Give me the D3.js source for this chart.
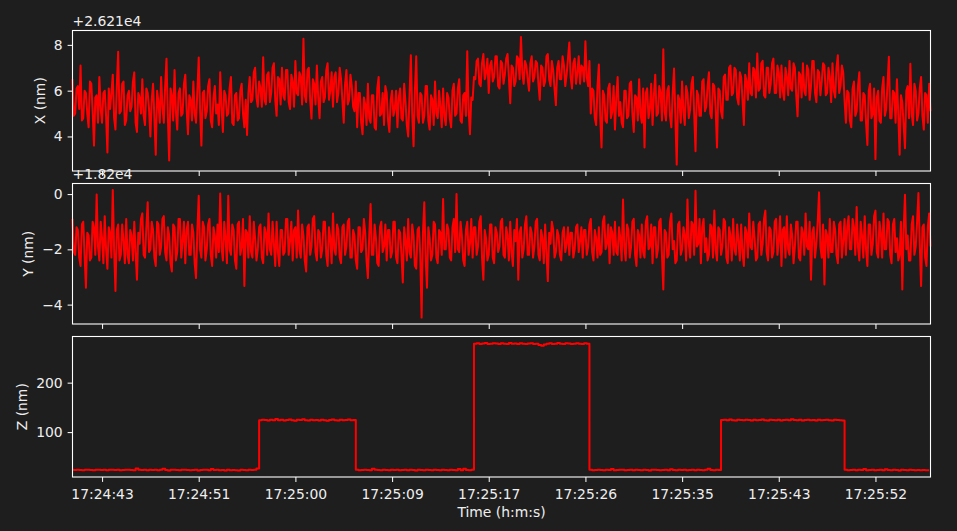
<!DOCTYPE html>
<html lang="en">
<head>
<meta charset="UTF-8">
<title>XYZ position trace</title>
<script src="https://cdn.jsdelivr.net/npm/d3@7"></script>
<style>
    html, body { margin: 0; padding: 0; background: #1e1e1e; }
    svg { display: block; }
    text { font-family: "DejaVu Sans", sans-serif; }
</style>
</head>
<body>
<svg id="chart" width="957" height="531"></svg>
<script>
    // sampling of the trace
    const startTime = "17:24:40.560";
    const xySampleMs = 120;
    const zSampleMs = 240;

    // X and Y are shown relative to an offset (matplotlib style offset text)
    const xOffsetLabel = "+2.621e4";
    const yOffsetLabel = "+1.82e4";

    // X - 26210 (nm)
    const xValues = [
        6.5,4.9, 5.0,6.1, 6.2,5.2, 7.1,4.7, 4.8,6.0, 5.9,5.0, 4.4,6.4, 6.3,5.1, 3.6,5.7, 5.8,4.6,
        6.6,5.2, 4.6,5.9, 6.0,4.9, 3.3,6.1, 5.2,5.9, 6.7,4.8, 4.3,6.2, 7.7,5.0, 5.1,6.3, 6.4,4.5,
        4.7,5.8, 6.0,5.1, 5.3,6.4, 6.8,4.6, 4.2,5.9, 5.7,5.0, 6.5,4.9, 4.5,6.1, 5.9,5.2, 4.0,5.6,
        6.3,4.8, 3.2,6.0, 5.5,4.6, 6.6,5.3, 4.6,6.2, 7.4,4.9, 2.95,6.1, 5.8,4.7, 6.9,5.1, 4.3,5.9,
        6.1,4.9, 5.0,6.3, 6.7,5.2, 4.1,5.8, 5.6,4.7, 6.4,5.0, 4.6,6.0, 7.45,5.2, 3.6,5.9, 6.0,4.8,
        5.1,6.2, 6.5,4.7, 4.4,5.7, 6.2,5.0, 5.4,4.5, 6.8,5.3, 4.2,6.0, 5.8,4.9, 5.0,6.1, 6.6,4.6,
        4.5,5.8, 5.9,4.7, 4.8,6.0, 6.3,5.0, 4.4,5.6, 4.06,5.9, 6.6,5.5, 5.6,6.8, 7.0,5.7, 5.3,6.4,
        6.1,5.3, 7.46,5.6, 5.4,6.7, 6.8,5.5, 5.9,7.0, 7.2,5.6, 4.9,6.6, 6.5,5.4, 7.0,5.8, 5.6,6.9,
        6.9,5.5, 5.2,6.7, 6.4,5.3, 7.3,5.9, 5.8,6.8, 6.6,5.4, 8.27,5.8, 5.5,6.9, 7.0,5.6, 4.78,6.5,
        6.3,5.4, 7.1,5.7, 4.8,6.4, 6.6,5.5, 5.7,6.9, 7.2,5.6, 6.0,6.8, 5.3,6.6, 6.8,5.5, 5.9,7.0,
        6.5,5.6, 4.6,6.3, 6.9,5.4, 5.6,6.7, 6.2,5.3, 5.1,6.4, 4.4,5.9, 5.9,4.6, 4.1,5.7, 5.4,4.5,
        6.3,4.8, 4.6,5.8, 5.8,4.4, 4.3,6.1, 6.6,4.9, 5.0,5.9, 4.5,6.2, 5.9,4.7, 4.2,5.6, 6.0,4.9,
        5.2,6.0, 4.4,5.7, 6.1,4.8, 4.7,6.3, 5.5,4.5, 4.0,5.8, 7.55,5.0, 3.57,6.0, 7.5,4.9, 4.6,5.9,
        5.8,4.6, 4.9,6.2, 6.2,4.7, 4.3,5.8, 5.6,4.5, 6.4,5.0, 4.8,6.0, 5.3,4.4, 6.1,4.9, 4.5,5.9,
        5.7,4.8, 4.4,6.0, 6.3,4.9, 5.0,6.1, 6.5,4.7, 4.6,5.8, 5.9,4.9, 7.72,5.2, 4.1,5.7, 5.6,6.6,
        6.5,7.3, 7.4,6.3, 6.2,7.2, 7.6,6.5, 6.8,7.4, 5.9,7.1, 7.3,6.4, 6.6,7.5, 7.5,6.2, 6.1,7.3,
        7.2,6.3, 6.7,7.4, 7.6,6.6, 5.45,7.1, 7.0,6.2, 6.4,7.5, 7.4,6.5, 8.35,6.8, 6.3,7.3, 7.1,6.5,
        6.0,7.2, 7.5,6.4, 6.6,7.3, 7.2,6.3, 5.6,7.1, 7.0,6.2, 6.4,7.5, 7.6,6.5, 6.2,7.3, 6.9,6.1,
        5.37,7.0, 7.3,6.5, 6.5,7.5, 7.1,6.2, 6.7,7.4, 8.1,6.6, 6.1,7.2, 7.4,6.3, 6.8,7.5, 6.3,7.1,
        7.0,6.4, 8.16,6.6, 6.2,7.3, 5.0,6.1, 6.0,4.8, 4.5,6.2, 7.14,4.9, 3.52,6.0, 5.8,4.7, 4.6,6.1,
        6.3,4.8, 5.1,6.2, 4.3,5.7, 6.6,4.9, 5.5,4.6, 4.4,6.0, 6.0,4.8, 4.9,6.3, 6.4,5.0, 4.2,5.8,
        5.7,4.7, 6.5,5.0, 4.6,6.1, 3.52,5.9, 6.1,4.8, 5.2,6.3, 4.5,5.8, 6.7,4.9, 5.0,6.2, 5.9,4.7,
        7.81,5.1, 4.7,6.0, 6.2,4.9, 4.4,5.9, 6.97,4.8, 2.77,5.8, 5.6,4.6, 6.4,5.1, 4.5,6.2, 5.9,4.8,
        5.2,6.3, 6.6,5.0, 3.35,6.0, 5.8,4.9, 4.9,6.4, 6.5,5.1, 5.3,6.2, 6.8,5.0, 4.8,6.3, 6.2,5.2,
        3.52,6.1, 6.0,5.1, 4.8,6.6, 6.7,5.6, 5.6,7.0, 7.1,5.8, 5.9,7.0, 6.9,5.7, 5.4,6.8, 6.6,5.6,
        4.5,6.7, 6.4,5.6, 7.2,5.9, 5.8,7.0, 6.9,5.7, 7.62,6.0, 6.1,7.2, 7.3,5.8, 5.7,7.0, 7.0,5.9,
        6.3,7.2, 7.4,5.9, 5.9,7.1, 6.8,5.7, 7.1,6.0, 5.6,7.0, 6.6,5.8, 7.3,6.1, 6.0,7.2, 7.0,5.8,
        4.88,6.8, 6.7,5.7, 7.2,6.0, 5.8,7.1, 6.9,5.6, 6.2,7.3, 7.3,5.9, 5.5,6.9, 6.8,5.8, 6.4,7.2,
        7.1,5.8, 5.9,7.0, 6.6,5.5, 7.2,6.0, 5.7,7.0, 7.55,5.9, 6.2,7.1, 6.8,5.6, 4.6,6.0, 5.9,4.7,
        4.4,6.1, 6.4,4.9, 5.1,6.2, 6.8,4.7, 4.7,5.9, 5.8,4.6, 3.63,6.0, 6.3,4.8, 5.0,6.1, 3.01,5.7,
        6.0,4.7, 4.6,6.1, 6.6,4.9, 5.2,6.3, 7.48,4.8, 4.8,6.0, 5.9,4.6, 6.5,5.0, 3.2,5.8, 5.5,4.5,
        3.49,6.0, 6.2,4.8, 7.18,5.0, 4.5,6.3, 6.0,4.7, 5.0,6.1, 6.6,4.9, 4.3,5.9, 5.8,4.6, 6.3,5.1
    ];

    // Y - 18200 (nm)
    const yValues = [
        -0.9,-2.1, -2.2,-1.2, -1.3,-2.3, -2.6,-1.1, -1.0,-2.2, -3.39,-1.4, -1.5,-2.4, -2.3,-1.0, -1.2,-2.2, -0.02,-1.9,
        -2.4,-1.0, -1.6,-2.5, -0.8,-2.0, -2.7,-1.2, -1.4,-2.3, 0.15,-2.0, -3.51,-1.3, -1.1,-2.4, -2.2,-1.1, -1.7,-2.5,
        -0.9,-2.2, -2.5,-1.3, -1.5,-2.4, -1.0,-2.1, -3.1,-1.4, -1.8,-0.9, -0.7,-2.2, -2.3,-1.2, -0.3,-2.1, -2.0,-1.0,
        -1.3,-2.3, -2.6,-1.0, -1.1,-2.2, -1.9,-0.9, -0.8,-2.1, -2.4,-1.2, -1.5,-2.5, -2.8,-1.1, -1.2,-2.4, -2.1,-0.9,
        -0.9,-2.3, -1.7,-1.0, -2.5,-1.3, -1.0,-2.2, -2.2,-1.1, -1.4,-2.5, -3.04,-1.3, -0.06,-2.0, -2.3,-1.0, -1.2,-2.4,
        -2.0,-1.1, -0.9,-2.2, -2.6,-1.2, -1.5,-2.3, -1.1,-2.1, 0.02,-1.9, -2.4,-1.0, -1.6,-2.5, -0.06,-2.0, -2.2,-1.1,
        -1.3,-2.4, -2.7,-1.1, -1.0,-2.2, -1.9,-0.9, -3.33,-1.3, -1.4,-2.3, -0.8,-2.1, -2.3,-1.0, -1.6,-2.4, -2.0,-1.2,
        -1.1,-2.3, -2.5,-1.2, -1.4,-2.2, -0.7,-2.0, -2.2,-1.0, -1.8,-2.6, -1.0,-2.1, -2.6,-1.3, -1.3,-2.2, -2.1,-0.9,
        -0.9,-2.2, -1.7,-1.0, -2.4,-1.3, -1.2,-2.3, -0.6,-2.0, -2.3,-1.1, -1.5,-2.4, -2.8,-1.2, -1.1,-2.2, -1.9,-0.9,
        -0.8,-2.1, -2.4,-1.3, -1.4,-2.3, -2.0,-1.0, -1.0,-2.2, -2.6,-1.2, -1.6,-2.5, -0.7,-2.0, -2.2,-1.1, -1.3,-2.3,
        -2.5,-1.2, -1.1,-2.2, -1.9,-1.0, -0.9,-2.3, -2.3,-1.3, -1.5,-2.4, -2.7,-1.2, -1.2,-2.1, -2.0,-0.9, -1.4,-2.4,
        -3.04,-1.5, -0.36,-2.2, -2.2,-1.1, -1.6,-2.5, -2.6,-1.2, -1.0,-2.1, -1.9,-1.1, -2.4,-1.3, -1.3,-2.3, -2.1,-1.0,
        -1.0,-2.3, -2.5,-1.3, -1.4,-2.2, -3.2,-1.2, -1.7,-2.4, -0.9,-2.1, -2.3,-1.1, -1.5,-2.6, -2.7,-1.3, -1.2,-2.2,
        -4.47,-1.4, -0.3,-2.3, -3.39,-1.2, -1.6,-2.4, -2.2,-1.0, -1.1,-2.3, -2.5,-1.3, -1.4,-2.2, -0.18,-2.0, -2.0,-1.1,
        -1.3,-2.3, -2.4,-1.2, -0.9,-2.1, 0.0,-2.0, -2.1,-1.0, -1.5,-2.4, -2.6,-1.3, -1.0,-2.2, -1.8,-0.9, -2.3,-1.2,
        -1.2,-2.2, -1.9,-1.0, -0.8,-2.3, -3.1,-1.3, -1.6,-2.4, -2.2,-1.1, -1.1,-2.3, -2.5,-1.2, -1.4,-2.1, -1.9,-1.0,
        -0.9,-2.2, -2.3,-1.2, -1.5,-2.4, -1.0,-2.1, -2.6,-1.3, -1.7,-0.9, -3.1,-1.4, -1.2,-2.3, -2.0,-1.1, -0.8,-2.2,
        -2.2,-1.2, -1.4,-2.3, -1.9,-1.0, -0.9,-2.2, -2.4,-1.3, -1.6,-2.5, -1.1,-2.1, -3.15,-1.4, -1.8,-1.0, -1.3,-2.3,
        -2.1,-1.3, -1.5,-2.2, -2.4,-1.4, -1.2,-2.1, -1.8,-1.2, -2.2,-1.4, -1.4,-2.3, -2.0,-1.2, -1.1,-2.1, -1.7,-1.2,
        -2.3,-1.3, -1.3,-2.2, -1.9,-1.1, -0.9,-2.1, -2.4,-1.3, -1.6,-2.3, -1.2,-2.2, -2.1,-1.0, -0.8,-2.0, -1.8,-1.1,
        -2.5,-1.2, -1.4,-2.2, -1.0,-2.1, -2.2,-1.2, -1.6,-2.4, -0.2,-1.9, -2.4,-1.1, -1.3,-2.3, -1.9,-1.0, -0.9,-2.2,
        -2.6,-1.3, -1.5,-2.3, -1.1,-2.1, -2.3,-1.0, -0.8,-2.0, -1.9,-1.1, -2.5,-1.2, -1.2,-2.3, -2.0,-1.0, -0.9,-2.2,
        -3.45,-1.3, -1.4,-2.3, -2.2,-1.0, -0.7,-2.0, -1.7,-2.5, -2.4,-1.1, -1.0,-2.2, -2.0,-1.2, -1.5,-2.4, -0.2,-1.8,
        -2.3,-1.0, -1.1,-2.2, 0.12,-1.9, -1.8,-0.9, -2.5,-1.2, -0.9,-2.1, -1.6,-2.4, -2.2,-1.1, -1.2,-2.3, -0.6,-2.0,
        -2.4,-1.2, -1.3,-2.2, -1.9,-0.9, -1.0,-2.3, -2.5,-1.2, -1.5,-2.4, -0.9,-2.0, -2.2,-1.1, -1.7,-2.4, -1.1,-2.1,
        -2.6,-1.2, -1.4,-2.3, -0.7,-1.9, -2.0,-1.0, -1.6,-2.4, -2.3,-1.1, -1.0,-2.2, -1.8,-0.9, -0.6,-2.1, -2.4,-1.2,
        -1.3,-2.3, -2.1,-1.0, -0.9,-2.2, -1.7,-0.8, -2.6,-1.3, -1.2,-2.3, -0.8,-2.0, -2.2,-1.1, -1.5,-2.5, -1.9,-1.0,
        -1.0,-2.3, -2.4,-1.2, -1.4,-2.2, -0.7,-1.9, -2.0,-1.0, -3.1,-1.4, -1.2,-2.3, -1.8,-1.0, 0.06,-1.9, -2.3,-1.1,
        -3.27,-1.3, -1.5,-2.3, -0.9,-2.1, -2.1,-1.0, -1.3,-2.2, -2.5,-1.1, -1.0,-2.3, -1.7,-0.9, -2.2,-1.2, -0.8,-2.0,
        -2.0,-0.9, -1.2,-2.2, -0.47,-1.9, -2.4,-1.0, -1.5,-2.3, -0.8,-2.0, -2.6,-1.1, -1.1,-2.2, -1.8,-0.8, -0.6,-2.1,
        -2.3,-1.0, -1.4,-2.3, -0.7,-2.0, -2.0,-0.9, -1.0,-2.2, -2.5,-1.1, -0.9,-2.1, -1.6,-2.4, -2.2,-1.0, -3.45,-1.3,
        -0.03,-2.0, -1.5,-2.4, -2.4,-1.1, -0.8,-2.2, -1.9,-1.0, 0.04,-1.8, -3.33,-1.2, -1.1,-2.3, -2.6,-1.2, -0.7,-1.9
    ];

    // Z (nm)
    const zValues = [
        23.5, 23, 24, 23, 22.5, 23.5, 24, 23, 22.5, 23.5,
        24, 23, 23.5, 22.5, 23.5, 24, 23, 23.5, 22.5, 23,
        23.5, 24, 23, 22.5, 26.5, 23.5, 23, 24, 22.5, 23.5,
        23, 24, 22.5, 23.5, 26, 23, 22, 23.5, 24, 23,
        22.5, 23.5, 24, 23, 22.5, 23, 23.5, 22, 23, 23.5,
        24, 22.5, 25.5, 23, 23.5, 22.5, 23, 22, 23.5, 22.5,
        23, 22.5, 22, 23.5, 23, 22.5, 23.5, 23, 24, 26.5,
        124, 125, 124.5, 123.5, 125, 124, 126.5, 124, 125, 123.5,
        124.5, 125.5, 124, 123, 125, 124.5, 126, 124, 123.5, 125,
        124, 124.5, 123.5, 125, 124, 123, 124.5, 125.5, 124, 123.5,
        125, 124, 124.5, 125.5, 124, 124.5, 23.5, 22.5, 23, 24,
        23, 22.5, 26, 23.5, 23, 22.5, 23.5, 23, 22.5, 24,
        23, 23.5, 22.5, 23, 24, 22.5, 23.5, 23, 22, 23.5,
        23, 22.5, 24, 23, 22.5, 23.5, 23, 22.5, 23.5, 23,
        22.5, 24, 23, 22.5, 25.5, 22.5, 26, 23, 22.5, 23.5,
        279, 280, 278.5, 279.5, 280.5, 278, 279, 280, 279.5, 278.5,
        280, 279, 278, 280.5, 279, 279.5, 278.5, 280, 279, 278,
        279.5, 280, 278.5, 279, 276, 274.5, 277, 279, 280, 278.5,
        279, 280.5, 279, 278, 280, 279.5, 278.5, 279, 280, 279,
        278.5, 280, 279, 23.5, 22.5, 23, 24, 23, 22.5, 23.5,
        23, 25.5, 22.5, 23, 24, 23.5, 22.5, 23, 23.5, 22.5,
        24, 23, 22.5, 23.5, 23, 22, 23.5, 24, 23, 22.5,
        23, 23.5, 22.5, 25, 23, 22.5, 23.5, 23, 24, 22.5,
        23, 23.5, 22.5, 24, 23, 22.5, 23.5, 26, 23, 22.5,
        23.5, 23, 124.5, 125, 124, 125.5, 124, 123.5, 125, 124.5,
        124, 125, 124.5, 123.5, 125, 124, 124.5, 125.5, 124, 123.5,
        125, 124.5, 124, 125, 123.5, 124.5, 125, 124, 126, 124.5,
        124, 125, 123.5, 124.5, 125, 124, 124.5, 123.5, 125, 124,
        124.5, 125, 124, 123.5, 125, 124.5, 124, 123.5, 23.5, 22.5,
        23, 24, 22.5, 23.5, 23, 25.5, 22.5, 23, 23.5, 22.5,
        23, 24, 22.5, 25, 23, 22.5, 23.5, 23, 22, 23.5,
        23, 22.5, 23.5, 23, 22.5, 23, 22.5, 23, 22.5, 22.5
    ];

    // tick positions
    const timeTicks = ["17:24:43.200", "17:24:51.840", "17:25:00.480", "17:25:09.120",
        "17:25:17.760", "17:25:26.400", "17:25:35.040", "17:25:43.680", "17:25:52.320"];
    const xTicks = [4, 6, 8];
    const yTicks = [-4, -2, 0];
    const zTicks = [100, 200];

    const fg = "#eeeeee";
    const fontSize = 13.9;
    const tickLen = 4.9;

    const left = 72.5, right = 930.5;
    const panelH = 140.5;
    const panelTop = [30.5, 183.5, 336.5];

    const svg = d3.select("#chart");
    svg.append("rect").attr("width", 957).attr("height", 531).attr("fill", "#1e1e1e");

    const parse = d3.timeParse("%H:%M:%S.%L");
    const t0 = parse(startTime);
    const xyTimes = xValues.map((_, i) => new Date(t0.getTime() + i * xySampleMs));
    const zTimes = zValues.map((_, i) => new Date(t0.getTime() + i * zSampleMs));

    const x = d3.scaleTime()
        .domain(d3.extent(xyTimes.concat(zTimes)))
        .range([left, right]);

    const panels = [
        { values: xValues, times: xyTimes, ticks: xTicks, label: "X (nm)", offset: xOffsetLabel, curve: d3.curveLinear },
        { values: yValues, times: xyTimes, ticks: yTicks, label: "Y (nm)", offset: yOffsetLabel, curve: d3.curveLinear },
        { values: zValues, times: zTimes, ticks: zTicks, label: "Z (nm)", offset: null, curve: d3.curveStep }
    ];

    panels.forEach((p, k) => {
        const top = panelTop[k];
        const bottom = top + panelH;
        const [lo, hi] = d3.extent(p.values);
        const pad = (hi - lo) * 0.05;
        const y = d3.scaleLinear().domain([lo - pad, hi + pad]).range([bottom, top]);

        const g = svg.append("g");

        const line = d3.line()
            .x((d, i) => x(p.times[i]))
            .y(d => y(d))
            .curve(p.curve);

        g.append("path")
            .datum(p.values)
            .attr("d", line)
            .attr("fill", "none")
            .attr("stroke", "#ff0000")
            .attr("stroke-width", 2)
            .attr("stroke-linejoin", "round");

        // y axis
        const yAxis = g.append("g")
            .attr("transform", `translate(${left},0)`)
            .call(d3.axisLeft(y)
                .tickValues(p.ticks)
                .tickFormat(d3.format("d"))
                .tickSize(tickLen)
                .tickPadding(tickLen));

        // x axis, labels only on the bottom panel
        const xAxis = g.append("g")
            .attr("transform", `translate(0,${bottom})`)
            .call(d3.axisBottom(x)
                .tickValues(timeTicks.map(parse))
                .tickFormat(k === 2 ? d3.timeFormat("%H:%M:%S") : () => "")
                .tickSize(tickLen)
                .tickPadding(tickLen));
        xAxis.selectAll("text").attr("dy", "0.85em");

        [yAxis, xAxis].forEach(a => {
            a.select(".domain").remove();
            a.selectAll(".tick line").attr("stroke", fg).attr("stroke-width", 1.1);
            a.selectAll("text")
                .attr("fill", fg)
                .style("font-size", fontSize + "px")
                .style("font-family", "DejaVu Sans");
        });

        // spines
        g.append("rect")
            .attr("x", left)
            .attr("y", top)
            .attr("width", right - left)
            .attr("height", panelH)
            .attr("fill", "none")
            .attr("stroke", "#ffffff")
            .attr("stroke-width", 1.1);

        // y label sits left of the widest tick label
        const minX = d3.min(yAxis.selectAll("text").nodes(), n => n.getBBox().x);
        const lx = left + minX - 9;
        const cy = (top + bottom) / 2;
        g.append("text")
            .attr("transform", `translate(${lx},${cy}) rotate(-90)`)
            .attr("text-anchor", "middle")
            .attr("fill", fg)
            .style("font-size", fontSize + "px")
            .text(p.label);

        if (p.offset) {
            g.append("text")
                .attr("x", left)
                .attr("y", top - 4.5)
                .attr("fill", fg)
                .style("font-size", fontSize + "px")
                .text(p.offset);
        }
    });

    svg.append("text")
        .attr("x", (left + right) / 2)
        .attr("y", 517)
        .attr("text-anchor", "middle")
        .attr("fill", fg)
        .style("font-size", fontSize + "px")
        .text("Time (h:m:s)");
</script>
</body>
</html>
